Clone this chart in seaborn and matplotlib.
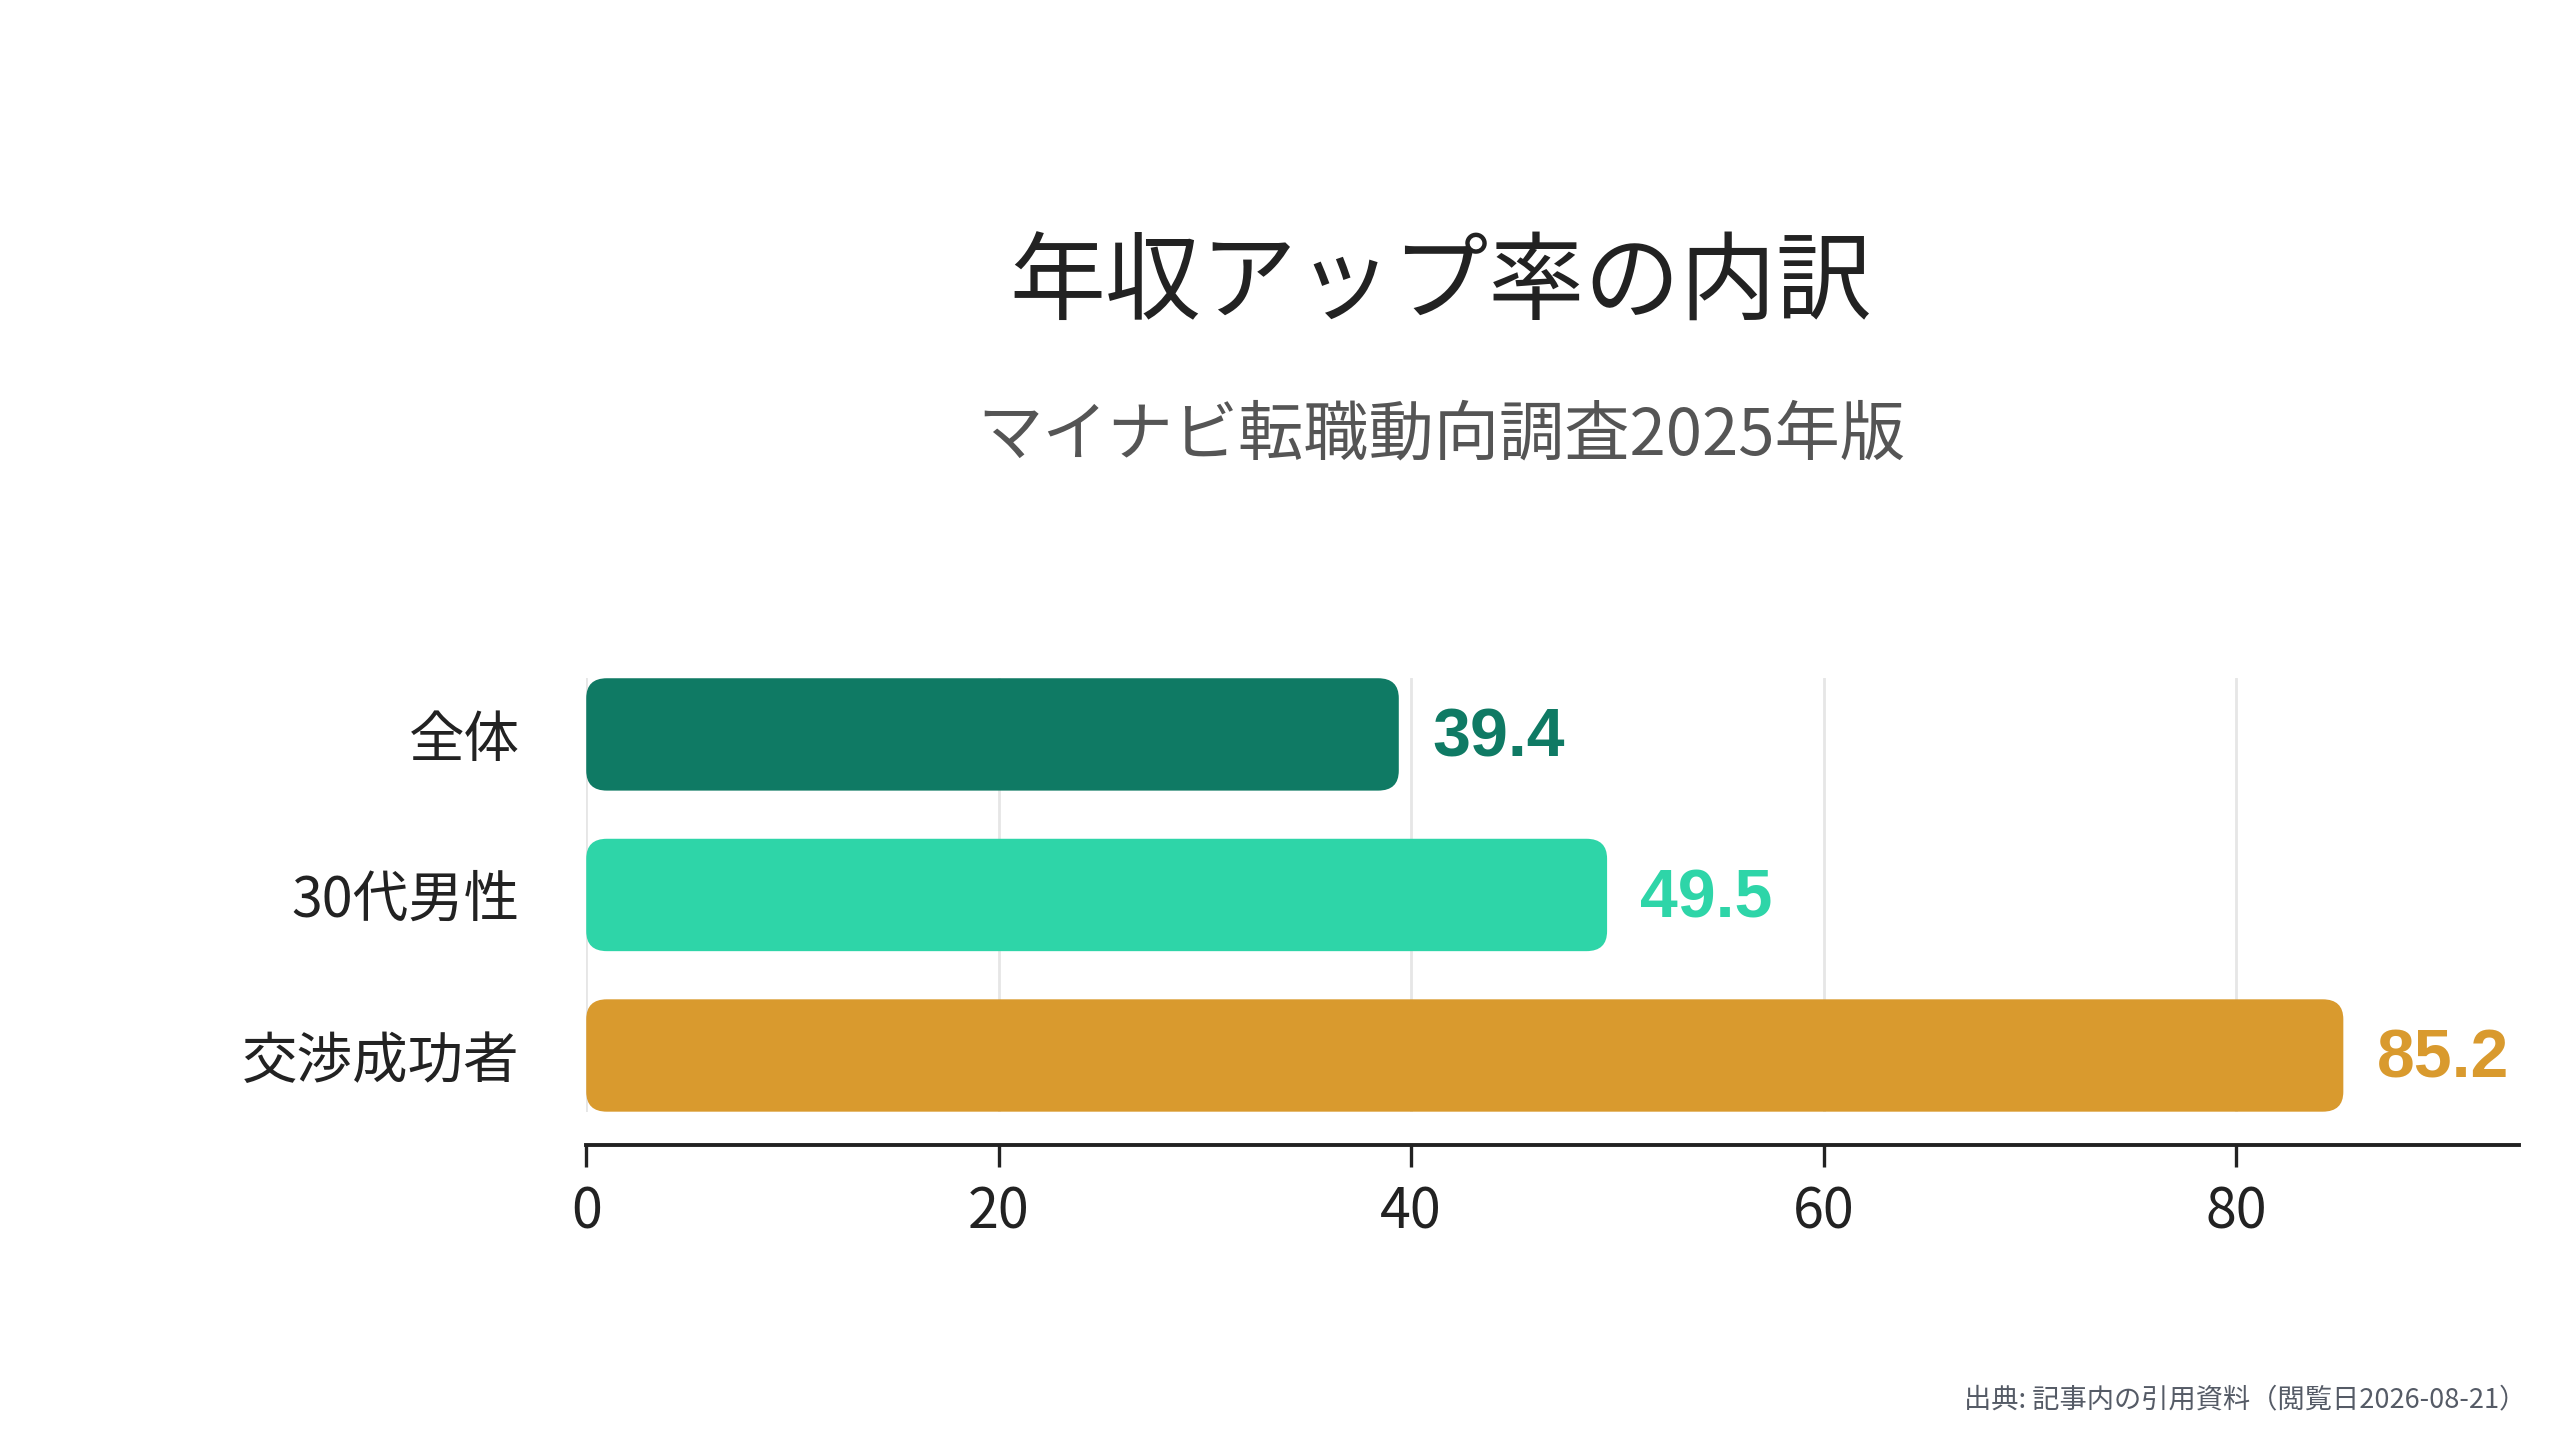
import matplotlib
matplotlib.use("Agg")
import matplotlib.pyplot as plt
from matplotlib.patches import FancyBboxPatch
import seaborn as sns
import pandas as pd

categories = ["全体", "30代男性", "交渉成功者"]
values = [39.4, 49.5, 85.2]
colors = ["#0F7A64", "#2ED5A8", "#D99A2E"]
x_ticks = [0, 20, 40, 60, 80]
title = "年収アップ率の内訳"
subtitle = "マイナビ転職動向調査2025年版"
source = "出典: 記事内の引用資料（閲覧日2026-08-21）"

sns.set_theme(style="white")
plt.rcParams["font.family"] = ["Noto Sans CJK JP", "DejaVu Sans"]

df = pd.DataFrame({"cat": categories, "val": values})

fig = plt.figure(figsize=(12.8, 7.2), dpi=200)
ax = fig.add_axes([0.229, 0.228, 0.755, 0.301])

sns.barplot(data=df, x="val", y="cat", hue="cat", palette=colors, orient="h",
            width=0.7, legend=False, ax=ax, saturation=1)

# Rounded bars
x_max = max(values) * 1.1
ax.set_xlim(0, x_max)
ax.set_ylim(len(categories) - 1 + 0.35, -0.35)
for p in list(ax.patches):
    x0, y0 = p.get_x(), p.get_y()
    w, h = p.get_width(), p.get_height()
    fc = p.get_facecolor()
    p.remove()
    fb = FancyBboxPatch((x0, y0), w, h,
                        boxstyle="round,pad=0,rounding_size=1.0",
                        mutation_aspect=0.124, facecolor=fc, edgecolor="none",
                        zorder=3)
    ax.add_patch(fb)

for i, (v, c) in enumerate(zip(values, colors)):
    ax.annotate(f"{v}", xy=(v, i), xytext=(12, -1.5), textcoords="offset points",
                ha="left", va="center", fontsize=24.5, fontweight="bold",
                color=c, family=["Liberation Sans", "DejaVu Sans"])

ax.set_xticks(x_ticks)
ax.set_xticklabels([str(t) for t in x_ticks])
ax.grid(axis="x", color="#E6E6E6", linewidth=1.0, zorder=0)
ax.grid(axis="y", visible=False)
ax.set_axisbelow(True)

for s in ["top", "right", "left"]:
    ax.spines[s].set_visible(False)
ax.spines["bottom"].set_position(("outward", 12))
ax.spines["bottom"].set_color("#222222")
ax.spines["bottom"].set_linewidth(1.4)

ax.tick_params(axis="x", length=8, width=1.2, color="#222222",
               labelsize=20, labelcolor="#222222", pad=6, bottom=True)
ax.tick_params(axis="y", length=0, labelsize=20, labelcolor="#222222", pad=24)
ax.set_xlabel("")
ax.set_ylabel("")

fig.text(0.563, 0.802, title, ha="center", va="center", fontsize=34.5,
         color="#222222")
fig.text(0.563, 0.697, subtitle, ha="center", va="center", fontsize=23.5,
         color="#555555")
fig.text(0.987, 0.028, source, ha="right", va="center", fontsize=9.8,
         color="#555B66")

fig.savefig("out.png", dpi=200, facecolor="white")
